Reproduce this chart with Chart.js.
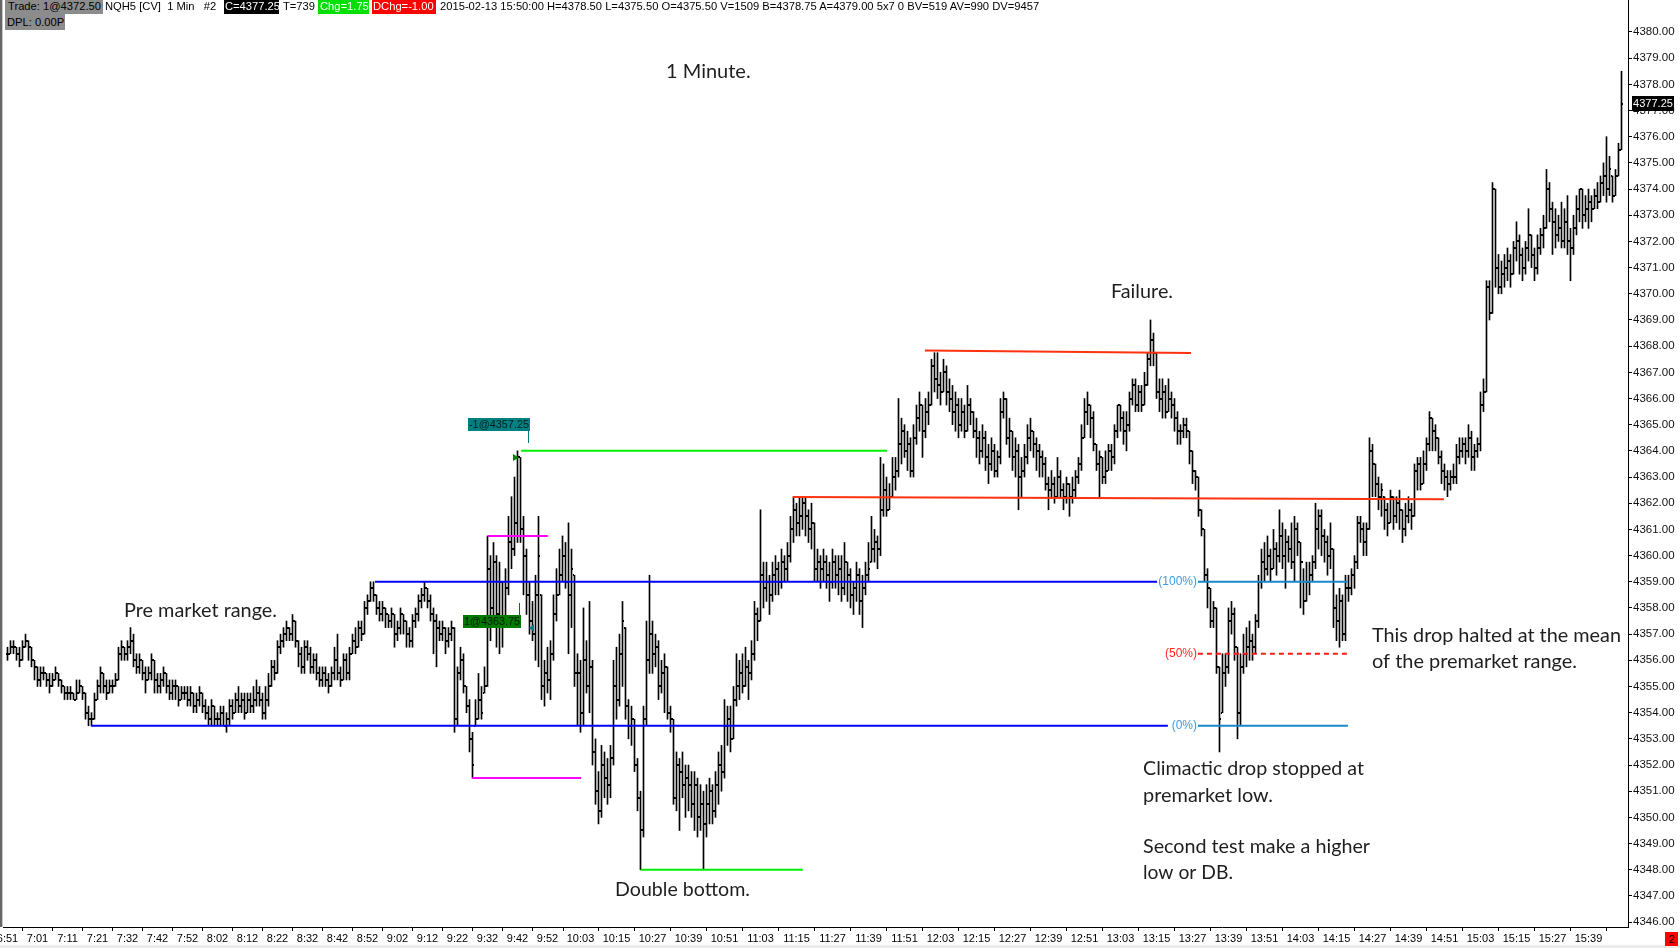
<!DOCTYPE html>
<html><head><meta charset="utf-8">
<script src="https://cdn.jsdelivr.net/npm/chart.js@4.4.1/dist/chart.umd.min.js"></script>
<style>
html,body{margin:0;padding:0;background:#fff;}
#wrap{position:relative;width:1680px;height:948px;overflow:hidden;background:#fff;}
#c{position:absolute;left:0;top:0;width:1680px;height:948px;}
.h{position:absolute;top:0;height:14px;line-height:14px;font:11.2px "Liberation Sans",Arial,sans-serif;white-space:pre;color:#000;overflow:hidden;box-sizing:border-box;}
#lb{position:absolute;left:0;top:0;width:2px;height:927px;background:#666;}
#lb2{position:absolute;left:2px;top:0;width:1px;height:927px;background:#c8c8c8;}
#bot{position:absolute;left:0;top:945px;width:1680px;height:3px;background:#ececec;}
#red2{position:absolute;left:1665px;top:932px;width:13px;height:14px;background:#ff0000;color:#000;font:11px "Liberation Sans",Arial,sans-serif;line-height:14px;text-align:center;}
</style></head><body>
<div id="wrap">
<canvas id="c" width="1680" height="948"></canvas>
<div id="lb"></div><div id="lb2"></div><div id="bot"></div>
<div class="h" style="left:5px;width:98px;background:#8c8c8c;padding-left:3px;">Trade: 1@4372.50</div>
<div class="h" style="left:105px;">NQH5 [CV]  1 Min   #2</div>
<div class="h" style="left:224px;width:55px;background:#000;color:#fff;padding-left:1px;">C=4377.25</div>
<div class="h" style="left:283px;">T=739</div>
<div class="h" style="left:318px;width:51px;background:#00e000;color:#fff;padding-left:2px;">Chg=1.75</div>
<div class="h" style="left:372px;width:64px;background:#ff0000;color:#fff;padding-left:1px;">DChg=-1.00</div>
<div class="h" style="left:440px;">2015-02-13 15:50:00 H=4378.50 L=4375.50 O=4375.50 V=1509 B=4378.75 A=4379.00 5x7 0 BV=519 AV=990 DV=9457</div>
<div class="h" style="left:5px;top:14px;height:16px;line-height:16px;width:60px;background:#8c8c8c;padding-left:2px;">DPL: 0.00P</div>
<div id="red2">2</div>
</div>
<script>
// ---- tick labels (time axis) ----
const timeTickIdx = [0,10,20,30,40,50,60,70,80,90,100,110,120,130,140,150,160,170,180,191,203,215,227,239,251,263,275,287,299,311,323,335,347,359,371,383,395,407,419,431,443,455,467,479,491,503,515,527];
const timeLabels = ["6:51","7:01","7:11","7:21","7:32","7:42","7:52","8:02","8:12","8:22","8:32","8:42","8:52","9:02","9:12","9:22","9:32","9:42","9:52","10:03","10:15","10:27","10:39","10:51","11:03","11:15","11:27","11:39","11:51","12:03","12:15","12:27","12:39","12:51","13:03","13:15","13:27","13:39","13:51","14:03","14:15","14:27","14:39","14:51","15:03","15:15","15:27","15:39"];

// ---- series: 1-minute bars (open / high / low / close) ----
const opens = [
4356.25,4356.25,4356.5,4356.5,4356.25,4356,4356.5,4356.75,4356.5,4356,
4355.75,4355.25,4355.5,4355.5,4355.25,4355,4355.25,4355.5,4355.25,4355,
4354.75,4354.75,4354.75,4354.5,4354.75,4355,4354.75,4354,4353.75,4353.75,
4354.5,4355,4355.5,4355,4354.75,4355,4355,4355.25,4356.25,4356.5,
4356.25,4356.5,4356.75,4356,4355.75,4356,4355.5,4355.25,4355.5,4356,
4355.25,4355,4355.25,4355.5,4355,4354.75,4355,4355,4354.5,4354.75,
4354.75,4354.5,4354.75,4354.25,4354.5,4354.75,4354.25,4354,4353.75,4354.25,
4353.75,4353.75,4354,4353.5,4353.75,4354.25,4354,4354.5,4354.25,4354.5,
4354,4354.5,4354.25,4354.5,4354.75,4354.5,4354,4354.5,4355,4355.75,
4355.5,4356.5,4356.75,4357,4357.25,4357,4357.5,4356.75,4356.25,4355.75,
4356.5,4356.25,4355.75,4356,4355.5,4355.25,4355.5,4355.25,4355,4355.5,
4356,4355.5,4355.25,4356,4355.5,4356.25,4356.75,4356.5,4357.25,4357,
4358,4358.25,4358.75,4358.5,4358,4357.75,4358,4357.75,4357.5,4357.75,
4357,4357.25,4357.75,4357.5,4357,4356.75,4357.5,4357.75,4358.25,4358.5,
4358.75,4358.25,4357.75,4357.5,4357.25,4357,4357.25,4356.75,4357,4357.25,
4353.75,4355.5,4356,4355,4354.25,4353,4353.5,4353.75,4354.5,4354.75,
4355,4359.5,4358,4359.75,4357.75,4359,4357.5,4358.75,4360.5,4360.25,
4361.25,4363.75,4361,4360,4358.5,4357.5,4357,4358.5,4358.5,4355,
4355.5,4355.25,4356.25,4357.75,4358.5,4359.25,4360,4359,4358.5,4359.25,
4355.5,4355.5,4354,4356,4355,4355.75,4352.5,4351,4350.25,4352,
4351.5,4351.25,4352.25,4355,4354.5,4356.25,4357.25,4354.25,4353.5,4353.75,
4352,4350.75,4349.5,4353.75,4356,4357,4356.25,4356.5,4355,4355.5,
4355.75,4354,4353.75,4350.75,4352,4351.75,4351.25,4351.5,4351.25,4350.5,
4351.25,4350,4350.5,4349.75,4350.5,4351,4350.25,4351.25,4352,4351.75,
4353.5,4353.75,4353,4354.5,4355,4355.5,4355,4355.75,4355.5,4356.25,
4357.75,4357.5,4359.25,4358.75,4359,4358.5,4359.25,4359.5,4359,4359.75,
4359.5,4360,4361,4361.75,4361.25,4361.5,4362,4361.5,4361,4361.25,
4359.5,4359.75,4359.5,4359.75,4359.25,4359,4359.75,4359.25,4359.5,4358.75,
4359.75,4359.25,4358.5,4358.75,4359.25,4358.25,4358.75,4359.25,4359.75,4360.25,
4360.5,4360.25,4361.75,4362.5,4361.75,4362.25,4363,4363.25,4364.25,4364.75,
4364,4364.25,4363.25,4364.5,4365.25,4365.75,4364.75,4365.5,4365.75,4367.25,
4366.75,4366.5,4366.25,4367,4366.25,4366,4365.5,4365.75,4365,4365.5,
4364.75,4365.75,4365.5,4364.75,4364.5,4364,4364.5,4363.75,4363.5,4364,
4363.25,4363.75,4365.5,4366,4364.5,4364.75,4363.75,4364,4363,4363.25,
4363.75,4364.5,4364.75,4364.25,4364,4363.75,4363.5,4362.75,4362.5,4362.75,
4362.25,4363,4362.5,4362.25,4362.75,4362.25,4362.5,4363,4363.5,4364.5,
4365.5,4365.75,4365.25,4364.25,4363.5,4363.75,4363,4363.25,4364,4363.75,
4364.75,4365.75,4365.25,4364.75,4365,4366,4366.5,4365.75,4366.25,4365.75,
4366.5,4367.5,4368.25,4367.75,4366.25,4366,4366.25,4365.5,4366,4365.75,
4365.25,4364.75,4364.75,4365,4364.75,4364,4363.25,4363,4361.75,4361,
4359.25,4358.75,4357.5,4358,4355.75,4354,4355.5,4355.75,4357.5,4357.75,
4356.5,4354,4355.75,4356.25,4356.5,4356.75,4356.5,4357.5,4359,4359.75,
4359.5,4360,4359.5,4360.25,4360,4360.75,4360,4360.5,4360.25,4359.75,
4361,4360.5,4359.75,4358.25,4359,4359.25,4359.75,4361,4361.5,4360.75,
4360.5,4360,4360.25,4358,4357.5,4358.25,4357,4358.75,4358.75,4359.25,
4359.75,4361.25,4361,4360.5,4361,4364,4363.5,4362.75,4362.25,4362.25,
4361.75,4361.25,4362.25,4361.5,4362,4361.75,4361,4361.5,4361.75,4361.5,
4363.25,4363.5,4362.75,4363.5,4364.25,4365.25,4364.75,4364.5,4363.75,4363.25,
4363,4362.75,4363,4363,4363.75,4364,4364.25,4364,4364.5,4363.75,
4364,4364.25,4365.75,4366.25,4370.25,4369.25,4374,4371,4370.25,4370.75,
4371,4371.25,4370.75,4371.75,4372,4371.5,4371,4371.75,4372.25,4371.5,
4371,4371.75,4372.25,4372.5,4374,4373.25,4372.75,4372.25,4372.5,4372,
4372.75,4372,4371.75,4372.5,4373.25,4374,4373,4373.25,4373.5,4373.25,
4373.75,4373.5,4374.25,4374.5,4374,4374.5,4373.75,4374.5,4375.5];

const highs = [
4356.5,4356.75,4356.75,4356.5,4356.5,4356.75,4357,4356.75,4356.5,4356,
4355.75,4355.75,4355.75,4355.5,4355.5,4355.5,4355.75,4355.5,4355.25,4355,
4355,4355,4354.75,4355.25,4355.25,4355,4354.75,4354.25,4354,4354.75,
4355.25,4355.75,4355.5,4355.25,4355.25,4355.25,4355.5,4356.5,4356.75,4356.5,
4356.75,4357.25,4357,4356.25,4356.25,4356,4355.75,4355.75,4356.25,4356,
4355.5,4355.5,4355.75,4355.5,4355.25,4355.25,4355.25,4355,4355,4355,
4355,4355,4354.75,4354.75,4355,4354.75,4354.5,4354.25,4354.5,4354.25,
4354,4354.25,4354.25,4354,4354.5,4354.5,4354.75,4355,4354.75,4354.75,
4354.75,4354.75,4355,4355.25,4355,4354.75,4355,4355.5,4356,4356,
4356.75,4357,4357.25,4357.5,4357.25,4357.75,4357.5,4356.75,4356.5,4356.75,
4356.75,4356.5,4356.25,4356.25,4355.75,4355.75,4355.75,4355.5,4355.75,4356.5,
4357,4355.75,4356.25,4356.25,4356.5,4357,4357.25,4357.5,4357.5,4358.25,
4358.5,4359,4359,4358.5,4358.25,4358.25,4358,4357.75,4358,4357.75,
4357.5,4358,4357.75,4357.5,4357.25,4357.75,4358,4358.5,4358.75,4359,
4358.75,4358.5,4358,4357.75,4357.5,4357.5,4357.25,4357.25,4357.5,4357.25,
4355.75,4356.5,4356.25,4355,4354.5,4353.25,4354.5,4355.5,4355,4355.75,
4360.75,4360,4360.5,4360,4359.75,4359,4359.5,4361.5,4362.25,4363,
4364,4363.75,4361.5,4360.25,4359,4358.25,4359.25,4361.5,4358.5,4356,
4356.5,4356.75,4358.5,4359.5,4360.25,4360.75,4360.5,4361.25,4360.25,4359.25,
4356.25,4356,4358,4356.75,4358.25,4356,4353,4351.75,4352.75,4352.5,
4352.25,4352.75,4356,4356.5,4357,4358.25,4357.25,4354.5,4354.25,4353.75,
4352.25,4351,4354.25,4357.5,4359.25,4357.5,4357,4356.75,4356,4356.25,
4355.75,4354.25,4353.75,4352.5,4352.25,4352.5,4352,4352,4351.75,4351.75,
4351.5,4351.25,4351,4351.25,4351.5,4351.25,4351.75,4352.5,4352.75,4354.5,
4354.25,4354.25,4355,4356.25,4356,4356.25,4356.5,4356,4356.75,4358.25,
4358,4361.75,4359.75,4359.75,4359.25,4359.75,4360,4359.75,4360.25,4360,
4360.5,4361.5,4362.25,4362,4362.25,4362.25,4362.25,4361.75,4362,4361.25,
4360.25,4360,4360.25,4360,4359.75,4360.25,4360,4360,4360,4360.5,
4359.75,4359.5,4359,4359.75,4359.5,4359.25,4359.75,4360.5,4361.5,4361,
4360.75,4363.75,4363.5,4363,4362.75,4363.75,4363.75,4366,4365.25,4365,
4364.75,4364.5,4365,4365.75,4366.25,4365.75,4366,4366.25,4367.5,4367.75,
4367.75,4367,4367.5,4367.25,4366.75,4366.5,4366.25,4366,4366,4365.75,
4366.5,4366,4365.5,4365.25,4364.75,4365,4364.75,4364.25,4364.5,4364.25,
4364,4366,4366.25,4366,4365.25,4364.75,4364.5,4364.25,4363.75,4364.25,
4365,4365.25,4364.75,4364.5,4364.25,4364,4363.75,4363,4363.25,4363,
4363.75,4363.25,4362.75,4363,4362.75,4363,4363.25,4363.75,4365,4366,
4366.25,4365.75,4365.5,4364.25,4364,4363.75,4364,4364.25,4364.25,4365,
4365.75,4365.75,4365.5,4365.5,4366.25,4366.75,4366.75,4366.5,4366.5,4367,
4367.75,4369,4368.5,4367.75,4366.75,4366.75,4366.5,4366.75,4366.25,4366,
4365.5,4365,4365.25,4365.25,4364.75,4364,4363.25,4363,4361.75,4361,
4359.5,4358.75,4358.25,4358,4355.75,4356.25,4356.25,4358,4358.25,4358,
4356.5,4356.25,4357,4357.25,4357.5,4357,4357.75,4359.25,4360.25,4360.5,
4360.75,4360.25,4361,4360.5,4361.75,4361.25,4361,4360.75,4361.25,4361.5,
4361.25,4360.5,4359.5,4359.75,4359.75,4360,4362,4361.75,4361.75,4361,
4360.75,4361.25,4360.25,4358.5,4358.75,4358.5,4359.25,4359.25,4359.5,4360,
4361.5,4361.5,4361.25,4361.25,4364.5,4364.25,4363.5,4363,4362.75,4362.25,
4362,4362.5,4362.25,4362.25,4362.5,4361.75,4362,4362.25,4362,4363.5,
4363.75,4363.75,4364,4364.5,4365.5,4365.25,4365,4364.5,4364,4363.5,
4363.25,4363.25,4363.5,4364.25,4364.5,4364.5,4364.5,4365,4364.75,4364.25,
4364.5,4366.25,4366.75,4370.5,4370.5,4374.25,4374,4371.5,4371.25,4371.5,
4371.75,4371.5,4372,4372.75,4372.25,4371.75,4372,4373.25,4372.25,4371.75,
4372.25,4372.5,4373,4374.75,4374.25,4373.5,4373.25,4373,4373.5,4373.25,
4373.75,4372.5,4373,4373.75,4374,4374,4373.75,4374,4373.75,4374,
4374.25,4374.5,4375,4376,4375.25,4374.5,4374.75,4375.75,4378.5];

const lows = [
4356,4356.25,4356.25,4356,4355.75,4356,4356.5,4356,4355.75,4355.25,
4355,4355,4355.25,4355,4354.75,4355,4355.25,4355,4354.75,4354.5,
4354.5,4354.5,4354.5,4354.5,4354.75,4354.5,4353.75,4353.5,4353.5,4353.75,
4354.5,4354.75,4354.75,4354.5,4354.75,4354.75,4355,4355.25,4356,4356,
4356,4356.25,4355.75,4355.5,4355.5,4355.25,4354.75,4355.25,4355.25,4354.75,
4354.75,4354.75,4355,4354.75,4354.5,4354.5,4354.5,4354.25,4354.5,4354.5,
4354.25,4354.25,4354,4354,4354.25,4354,4353.75,4353.5,4353.5,4353.5,
4353.5,4353.5,4353.5,4353.25,4353.5,4353.75,4354,4354,4354,4353.75,
4354,4354,4354,4354.25,4354.25,4353.75,4353.75,4354.25,4355,4355.25,
4355.5,4356.25,4356.5,4356.75,4356.75,4356.75,4356.5,4355.75,4355.5,4355.5,
4356,4355.5,4355.5,4355.25,4355,4355,4355,4354.75,4355,4355.25,
4355.25,4355,4355.25,4355.25,4355.25,4356.25,4356.25,4356.5,4356.75,4357,
4357.75,4358.25,4358.25,4357.75,4357.5,4357.5,4357.25,4357.25,4357.25,4356.5,
4356.75,4357,4357,4356.5,4356.5,4356.5,4357.25,4357.5,4358,4358.25,
4358,4357.5,4356.25,4355.75,4356.75,4356.75,4356.25,4356.5,4356.75,4353.25,
4353.5,4355.25,4354.75,4354,4352.5,4351.5,4353.5,4353.75,4353.75,4354.75,
4355,4356.75,4357.5,4356.5,4356.25,4356.5,4357.25,4358.5,4359.5,4360,
4360.5,4360.5,4358.5,4357.75,4357,4356.75,4356,4355.75,4354.5,4354.25,
4354.75,4354.5,4356,4357.5,4358.5,4359,4358.75,4356.25,4357.25,4355,
4353.5,4353.25,4353.5,4354.75,4354,4352,4350.5,4349.75,4350,4350.75,
4350.5,4350.75,4352,4353.75,4354.25,4355,4353.75,4353,4352.75,4351.75,
4350.25,4348,4349.25,4353.5,4355.5,4355.5,4355.75,4354.5,4354.75,4354,
4353.75,4353.25,4350.5,4350.25,4349.5,4350.75,4350,4350.25,4350,4349.5,
4349.25,4349.5,4348,4349.25,4349.75,4349.75,4350,4350.5,4351,4351.5,
4352.75,4352.5,4353,4354.25,4354.5,4354.75,4355,4354.5,4355.25,4356,
4356.75,4357.5,4358,4358.25,4357.75,4358.25,4358.5,4358.5,4358.75,4359,
4359,4359.75,4360.5,4360.75,4360.75,4361,4360.75,4360.5,4360.25,4359,
4359,4358.75,4359,4358.75,4358.25,4358.75,4358.75,4358.5,4358.25,4358.5,
4358.25,4358,4357.75,4358.25,4357.75,4357.25,4358.5,4359,4359.75,4359.75,
4359.5,4360,4361.5,4361.5,4361.75,4362.25,4362.5,4363,4363.5,4363.75,
4363.25,4363,4363,4364.25,4364.75,4363.75,4364.5,4365,4365.75,4366.25,
4366,4365.75,4366.25,4365.75,4365.5,4365,4364.75,4364.5,4364.75,4364.5,
4364.75,4365,4364.5,4363.75,4363.5,4363.75,4363.25,4362.75,4363.25,4363,
4363,4363.5,4365.25,4364.25,4363.75,4363.25,4363,4361.75,4362.25,4363,
4363.5,4364,4363.75,4363.25,4363,4363,4362.5,4361.75,4362.25,4362,
4362.25,4362.25,4361.75,4362,4361.5,4362,4362.25,4362.75,4363.25,4364.5,
4365,4364.5,4364,4363.25,4362.25,4362.75,4362.75,4363.25,4363.25,4363.5,
4364.5,4364.75,4364.25,4364,4364.75,4365.75,4365.5,4365.5,4365.5,4365.75,
4366.5,4367.25,4367.25,4366,4365.5,4365.25,4365.25,4365.5,4365.25,4364.75,
4364.25,4364.25,4364.5,4364.5,4363.5,4362.75,4362.5,4361.5,4360.75,4359,
4358,4357.25,4357.25,4355.5,4352.5,4354,4355,4355.5,4357,4356,
4353,4353.5,4355.5,4355.75,4356,4356,4356.25,4357.25,4358.75,4359,
4359.25,4359,4359.5,4359.25,4359.75,4359.5,4358.75,4359.75,4359.5,4359,
4360,4358,4357.75,4358.25,4358.5,4359,4359.5,4360.25,4360,4359.75,
4359.25,4359.5,4357.25,4356.75,4356.5,4356.75,4356.75,4358.25,4358.5,4358.75,
4359.5,4360.5,4360,4360,4361,4362.25,4362.25,4361.75,4361.5,4361,
4360.75,4361.25,4361,4361.25,4361,4360.5,4360.75,4361.25,4361,4361.5,
4362.5,4362.5,4362.75,4363.25,4364,4364,4364,4363.5,4362.75,4362.5,
4362.25,4362.5,4362.75,4362.75,4363.5,4363.75,4363.5,4363.75,4363.25,4363.25,
4363.75,4364,4365.5,4366.25,4369,4369.25,4370.25,4370,4370,4370.25,
4370.5,4370.25,4370.75,4371.25,4370.75,4370.5,4370.75,4371.25,4371,4370.5,
4370.75,4371.5,4371.75,4372.5,4372.75,4371.5,4371.75,4372,4371.75,4371.75,
4371.5,4370.5,4371.5,4372.25,4372.75,4372.5,4372.75,4372.5,4372.75,4373.25,
4373.25,4373.5,4373.75,4373.5,4373.75,4373.5,4373.75,4374.5,4375.5];

const closes = [
4356.25,4356.5,4356.5,4356.25,4356,4356.5,4356.75,4356.5,4356,4355.75,
4355.25,4355.5,4355.5,4355.25,4355,4355.25,4355.5,4355.25,4355,4354.75,
4354.75,4354.75,4354.5,4354.75,4355,4354.75,4354,4353.75,4353.75,4354.5,
4355,4355.5,4355,4354.75,4355,4355,4355.25,4356.25,4356.5,4356.25,
4356.5,4356.75,4356,4355.75,4356,4355.5,4355.25,4355.5,4356,4355.25,
4355,4355.25,4355.5,4355,4354.75,4355,4355,4354.5,4354.75,4354.75,
4354.5,4354.75,4354.25,4354.5,4354.75,4354.25,4354,4353.75,4354.25,4353.75,
4353.75,4354,4353.5,4353.75,4354.25,4354,4354.5,4354.25,4354.5,4354,
4354.5,4354.25,4354.5,4354.75,4354.5,4354,4354.5,4355,4355.75,4355.5,
4356.5,4356.75,4357,4357.25,4357,4357.5,4356.75,4356.25,4355.75,4356.5,
4356.25,4355.75,4356,4355.5,4355.25,4355.5,4355.25,4355,4355.5,4356,
4355.5,4355.25,4356,4355.5,4356.25,4356.75,4356.5,4357.25,4357,4358,
4358.25,4358.75,4358.5,4358,4357.75,4358,4357.75,4357.5,4357.75,4357,
4357.25,4357.75,4357.5,4357,4356.75,4357.5,4357.75,4358.25,4358.5,4358.75,
4358.25,4357.75,4357.5,4357.25,4357,4357.25,4356.75,4357,4357.25,4353.75,
4355.5,4356,4355,4354.25,4353,4352,4353.75,4354.5,4354,4355,
4359.5,4358,4359.75,4357.75,4359,4357.5,4358.75,4360.5,4360.25,4361.25,
4363.75,4361,4360,4358.5,4357.5,4357,4358.5,4360,4355,4355.5,
4355.25,4356.25,4357.75,4358.5,4359.25,4360,4359,4358.5,4359.5,4355.5,
4355.5,4354,4356,4355,4355.75,4352.5,4351,4350.25,4352,4351.5,
4351.25,4352.25,4355,4354.5,4356.25,4357.5,4354.25,4353.5,4353.75,4352,
4350.75,4349.5,4353.75,4356,4357,4356.25,4356.5,4355,4355.5,4355.75,
4354,4353.75,4350.75,4352,4351.75,4351.25,4351.5,4351.25,4350.5,4351.25,
4350,4350.5,4349.75,4350.5,4351,4350.25,4351.25,4352,4351.75,4353.5,
4353.75,4353,4354.5,4355,4355.5,4355,4355.75,4355.5,4356.25,4357.75,
4357.5,4359.25,4358.75,4359,4358.5,4359.25,4359.5,4359,4359.75,4359.5,
4360,4361,4361.75,4361.25,4361.5,4362,4361.5,4361,4361.25,4359.5,
4359.75,4359.5,4359.75,4359.25,4359,4359.75,4359.25,4359.5,4358.75,4359.75,
4359.25,4358.5,4358.75,4359.25,4358.25,4358.75,4359.25,4359.5,4360.25,4360.5,
4360.25,4361.75,4362.5,4361.75,4362.25,4363,4363.25,4364.25,4364.75,4364,
4364.25,4363.25,4364.5,4365.25,4365.75,4364.75,4365.5,4365.75,4367.25,4366.75,
4366.5,4366.25,4367,4366.25,4366,4365.5,4365.75,4365,4365.5,4364.75,
4365.75,4365.5,4364.75,4364.5,4364,4364.5,4363.75,4363.5,4364,4363.25,
4363.75,4365.5,4366,4364.5,4364.75,4363.75,4364,4363,4363.25,4363.75,
4364.5,4364.75,4364.25,4364,4363.75,4363.5,4362.75,4362.5,4362.75,4362.25,
4363,4362.5,4362.25,4362.75,4362.25,4362.5,4363,4363.5,4364.5,4365.5,
4365.75,4365.25,4364.25,4363.5,4363.75,4363,4363.25,4364,4363.75,4364.75,
4365.75,4365.25,4364.75,4365,4366,4366.5,4365.75,4366.25,4365.75,4366.5,
4367.5,4368.25,4367.75,4366.25,4366,4366.25,4365.5,4366,4365.75,4365.25,
4364.75,4364.75,4365,4364.75,4364,4363.25,4363,4361.75,4361,4359.25,
4358.75,4357.5,4358,4355.75,4353.75,4355.5,4355.75,4357.5,4357.75,4356.5,
4354,4355.75,4356.25,4356.5,4356.75,4356.5,4357.5,4359,4359.75,4359.5,
4360,4359.5,4360.25,4360,4360.75,4360,4360.5,4360.25,4359.75,4361,
4360.5,4359.75,4358.25,4359,4359.25,4359.75,4361,4361.5,4360.75,4360.5,
4360,4360.25,4358,4357.5,4358.25,4357,4358.75,4358.75,4359.25,4359.75,
4361.25,4361,4360.5,4361,4364,4363.5,4362.75,4362.25,4362.5,4361.75,
4361.25,4362.25,4361.5,4362,4361.75,4361,4361.5,4361.75,4361.5,4363.25,
4363.5,4362.75,4363.5,4364.25,4365.25,4364.75,4364.5,4363.75,4363.25,4363,
4362.75,4363,4363,4363.75,4364,4364.25,4364,4364.5,4363.75,4364,
4364.25,4365.75,4366.25,4370.25,4369.25,4374,4371,4370.25,4370.75,4371,
4371.25,4370.75,4371.75,4372,4371.5,4371,4371.75,4372.25,4371.5,4371,
4371.75,4372.25,4372.5,4374,4373.25,4372.75,4372.25,4372.5,4372,4372.75,
4372,4371.75,4372.5,4373.25,4374,4373,4373.25,4373.5,4373.25,4373.75,
4373.5,4374.25,4374.5,4374,4374.75,4373.75,4374.5,4375.5,4377.25];

const lastPrice = 4377.25;

// ---- drawn levels (annotation config, in bar-index / price units) ----
const levels = [
  {x0:122.5, x1:383.2, y0:4359.0, y1:4359.0, color:'#0000ff', w:2},
  {x0:27.8,  x1:386.8, y0:4353.5, y1:4353.5, color:'#0000ff', w:2},
  {x0:396.8, x1:446.8, y0:4359.0, y1:4359.0, color:'#1b87c9', w:2},
  {x0:396.8, x1:446.8, y0:4353.5, y1:4353.5, color:'#1b87c9', w:2},
  {x0:396.8, x1:446.8, y0:4356.25, y1:4356.25, color:'#ff1a1a', w:2, dash:[5,4]},
  {x0:171.2, x1:293.2, y0:4364.0, y1:4364.0, color:'#00f000', w:2},
  {x0:211.1, x1:265.1, y0:4348.0, y1:4348.0, color:'#00f000', w:2},
  {x0:160.1, x1:180.1, y0:4360.75, y1:4360.75, color:'#ff00ff', w:2},
  {x0:154.9, x1:191.2, y0:4351.5, y1:4351.5, color:'#ff00ff', w:2},
  {x0:305.8, x1:394.5, y0:4367.83, y1:4367.74, color:'#ff3210', w:2},
  {x0:261.8, x1:478.8, y0:4362.24, y1:4362.15, color:'#ff3210', w:2}
];

const notes = [
  {t:'1 Minute.', x:666, y:72, w:95},
  {t:'Failure.', x:1111, y:292, w:62},
  {t:'Pre market range.', x:124, y:611, w:153},
  {t:'Double bottom.', x:615, y:890, w:135},
  {t:'Climactic drop stopped at', x:1143, y:769, w:221},
  {t:'premarket low.', x:1143, y:796, w:130},
  {t:'Second test make a higher', x:1143, y:847, w:227},
  {t:'low or DB.', x:1143, y:873, w:90},
  {t:'This drop halted at the mean', x:1372, y:636, w:249},
  {t:'of the premarket range.', x:1372, y:662, w:205}
];

const barData = lows.map((lo, i) => ({x: i, y: [lo, highs[i]]}));

const ocTicks = {
  id: 'ocTicks',
  afterDatasetDraw(chart, args) {
    if (args.meta.type !== 'bar') return;
    const {ctx, scales: {x, y}, chartArea: a} = chart;
    ctx.save();
    ctx.beginPath(); ctx.rect(a.left, a.top, a.right - a.left, a.bottom - a.top); ctx.clip();
    ctx.fillStyle = '#000';
    closes.forEach((c, i) => {
      const px = Math.floor(x.getPixelForValue(i));
      const pc = Math.round(y.getPixelForValue(c));
      const po = Math.round(y.getPixelForValue(opens[i]));
      ctx.fillRect(px + 1, pc - 1, 1, 2);
      ctx.fillRect(px - 1, po - 1, 1, 2);
    });
    ctx.restore();
  }
};

const overlay = {
  id: 'overlay',
  afterDraw(chart) {
    const {ctx, scales: {y}} = chart;
    ctx.save();
    ctx.font = '12px "Liberation Sans", Arial, sans-serif';
    ctx.textBaseline = 'middle'; ctx.textAlign = 'right';
    ctx.fillStyle = '#3a9de2';
    ctx.fillText('(100%)', 1197, y.getPixelForValue(4359.0));
    ctx.fillText('(0%)', 1197, y.getPixelForValue(4353.5));
    ctx.fillStyle = '#ff2626';
    ctx.fillText('(50%)', 1197, y.getPixelForValue(4356.25));
    ctx.textAlign = 'left';
    ctx.font = '11px "Liberation Sans", Arial, sans-serif';
    ctx.fillStyle = '#008080'; ctx.fillRect(468, 418, 62, 13);
    ctx.fillStyle = '#002020'; ctx.fillText('-1@4357.25', 469, 425, 60);
    ctx.strokeStyle = '#008080'; ctx.lineWidth = 1;
    ctx.beginPath(); ctx.moveTo(528.5, 431); ctx.lineTo(528.5, 443); ctx.stroke();
    ctx.fillStyle = '#007a00'; ctx.fillRect(463, 615, 58, 13);
    ctx.fillStyle = '#001a00'; ctx.fillText('1@4363.75', 464, 622, 56);
    ctx.strokeStyle = '#007a00';
    ctx.beginPath(); ctx.moveTo(519.5, 603); ctx.lineTo(519.5, 615); ctx.stroke();
    ctx.fillStyle = '#008000';
    ctx.beginPath(); ctx.moveTo(513, 454); ctx.lineTo(519, 457.5); ctx.lineTo(513, 461); ctx.closePath(); ctx.fill();
    ctx.fillStyle = '#008080';
    ctx.beginPath(); ctx.moveTo(534, 624); ctx.lineTo(529, 628); ctx.lineTo(534, 632); ctx.closePath(); ctx.fill();
    ctx.font = '20px Lato, "Open Sans", sans-serif';
    ctx.fillStyle = '#1e1e1e';
    notes.forEach(n => ctx.fillText(n.t, n.x, n.y, n.w));
    const py = y.getPixelForValue(lastPrice);
    ctx.fillStyle = '#000'; ctx.fillRect(1632, Math.round(py) - 8, 42, 15);
    ctx.fillStyle = '#fff'; ctx.font = '11.5px "Liberation Sans", Arial, sans-serif';
    ctx.fillText(lastPrice.toFixed(2), 1633, Math.round(py), 40);
    ctx.restore();
  }
};

function draw() {
  const lineSets = levels.map(l => ({
    type: 'line',
    data: [{x: l.x0, y: l.y0}, {x: l.x1, y: l.y1}],
    borderColor: l.color, borderWidth: l.w, borderDash: l.dash || [],
    pointRadius: 0, fill: false, tension: 0, borderCapStyle: 'butt'
  }));
  new Chart(document.getElementById('c'), {
    type: 'bar',
    data: {
      datasets: [...lineSets, {
        type: 'bar', data: barData, backgroundColor: '#000', borderWidth: 0,
        barThickness: 1, grouped: false
      }]
    },
    options: {
      responsive: false, devicePixelRatio: 1, animation: false,
      layout: {padding: {left: 3, right: 0, top: 0, bottom: 0}},
      plugins: {legend: {display: false}, tooltip: {enabled: false}},
      scales: {
        x: {
          type: 'linear', min: -1.5, max: 540.17, offset: false,
          afterBuildTicks(s) { s.ticks = timeTickIdx.map(v => ({value: v})); },
          afterFit(s) { s.height = 21; s.paddingLeft = 0; s.paddingRight = 0; },
          ticks: {
            autoSkip: false, maxRotation: 0, minRotation: 0, padding: 1, color: '#000',
            font: {family: '"Liberation Sans", Arial, sans-serif', size: 11},
            callback(v) { const k = timeTickIdx.indexOf(v); return k >= 0 ? timeLabels[k] : ''; }
          },
          grid: {drawOnChartArea: false, drawTicks: true, tickLength: 4, color: '#000'},
          border: {display: true, color: '#000', width: 1}
        },
        y: {
          type: 'linear', position: 'right', min: 4345.813, max: 4381.222,
          afterBuildTicks(s) { s.ticks = s.ticks.filter(t => Number.isInteger(t.value) && t.value <= 4380); },
          afterFit(s) { s.width = 52; s.paddingTop = 0; s.paddingBottom = 0; },
          ticks: {
            stepSize: 1, includeBounds: false, padding: 1, color: '#111',
            font: {family: '"Liberation Sans", Arial, sans-serif', size: 11.5},
            callback: v => Number(v).toFixed(2)
          },
          grid: {drawOnChartArea: false, drawTicks: true, tickLength: 4, color: '#000'},
          border: {display: true, color: '#000', width: 1}
        }
      }
    },
    plugins: [ocTicks, overlay]
  });
}

const fontsReady = document.fonts && document.fonts.load
  ? Promise.all([document.fonts.load('20px Lato'), document.fonts.load('11px "Liberation Sans"')]).catch(() => {})
  : Promise.resolve();
let drawn = false;
fontsReady.then(() => { if (!drawn) { drawn = true; draw(); } });
setTimeout(() => { if (!drawn) { drawn = true; draw(); } }, 1500);
</script>
</body></html>
